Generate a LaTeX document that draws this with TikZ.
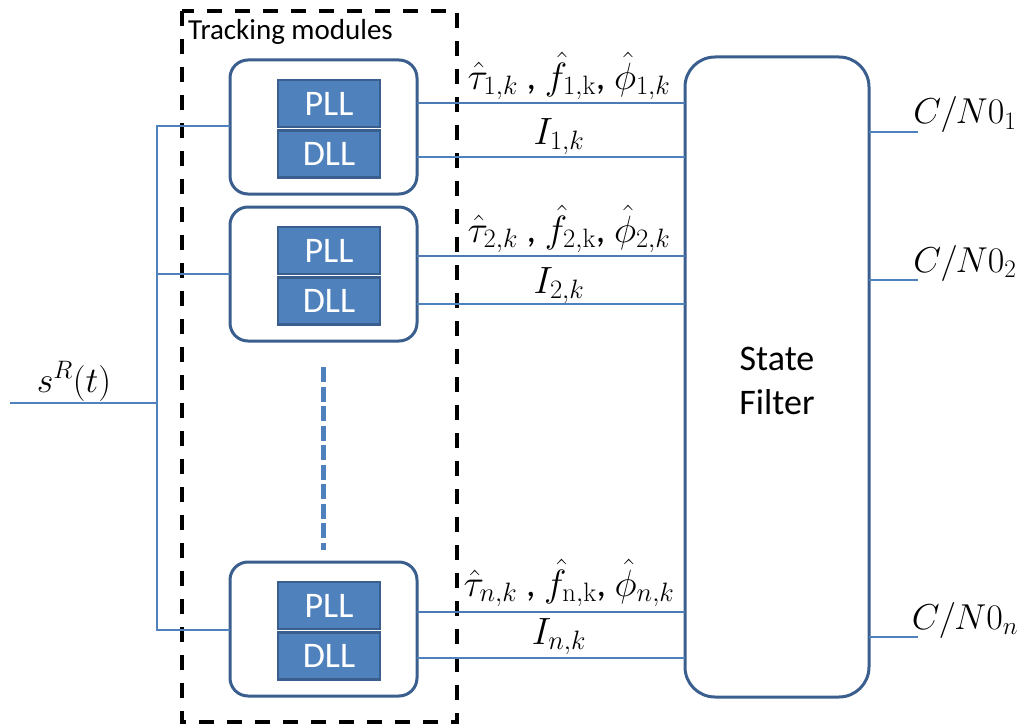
\RequirePackage{fix-cm}
\documentclass[tikz,border=0pt]{standalone}
\usepackage[no-math]{fontspec}
\setmainfont{Carlito}
\begin{document}
\begin{tikzpicture}[x=1pt,y=-1pt,
  dk/.style={draw=ddblue,line width=3pt},
  module/.style={dk,rounded corners=18pt,fill=white},
  loop/.style={draw=ddblue,line width=2.5pt,fill=mblue,text=white,font=\fontsize{36}{40}\selectfont,inner sep=0pt},
  thinln/.style={draw=mblue,line width=1.3pt},
  thickln/.style={draw=mblue!80!ddblue,line width=2.6pt},
  mlab/.style={font=\fontsize{36}{40}\selectfont,anchor=base,inner sep=0pt},
  elab/.style={font=\fontsize{38}{42}\selectfont,anchor=base,inner sep=0pt},
]
\definecolor{ddblue}{HTML}{3A5F8F}
\definecolor{mblue}{HTML}{4F81BD}
\useasboundingbox (0,0) rectangle (1026,725);
% dashed tracking box
\draw[black,line width=3.5pt,dash pattern=on 15pt off 13pt] (182,11) rectangle (457,722);
\node[anchor=base west,inner sep=0pt,font=\fontsize{29}{32}\selectfont] (tm) at (188,40) {Tracking modules};
% modules
\foreach \n/\t in {1/60,2/207,3/562}{
  \draw[module] (230,\t) rectangle (417,\t+134);
  \coordinate (min\n) at (230,\t+66);
  \node[loop,minimum width=102pt,minimum height=47pt] (pll\n) at (329,\t+43.5) {PLL};
  \node[loop,minimum width=102pt,minimum height=47pt] (dll\n) at (329,\t+94) {DLL};
}
% state filter
\draw[dk,rounded corners=30pt] (685,57) rectangle (869,697);
\node[font=\fontsize{36}{44}\selectfont,align=center] (sf) at (777,381) {State\\Filter};
% input
\coordinate (in) at (10,403);
\coordinate (bus) at (157,403);
\node[mlab] (sr) at (74,392) {$s^R(t)$};
\draw[thinln] (in) -- (bus);
\draw[thinln] (230,126) -- (157,126) -- (157,630) -- (230,630);
\draw[thinln] (157,274) -- (230,274);
% dots
\draw[draw=mblue,line width=5pt,dash pattern=on 15pt off 4.5pt] (323,367) -- (323,550);
% outputs
\draw[thickln] (417,103) -- (685,103);
\draw[thinln] (417,157) -- (685,157);
\draw[thickln] (417,256) -- (685,256);
\draw[thinln] (417,304) -- (685,304);
\draw[thickln] (417,612) -- (685,612);
\draw[thinln] (417,658) -- (685,658);
\node[elab] (l1) at (569,89) {$\hat\tau_{1,k}$ , $\hat f_{\mathrm{1,k}}$, $\hat\phi_{1,k}$};
\node[elab] (i1) at (559,144) {$I_{1,k}$};
\node[elab] (l2) at (569,242) {$\hat\tau_{2,k}$ , $\hat f_{\mathrm{2,k}}$, $\hat\phi_{2,k}$};
\node[elab] (i2) at (559,293) {$I_{2,k}$};
\node[elab] (l3) at (569,596) {$\hat\tau_{n,k}$ , $\hat f_{\mathrm{n,k}}$, $\hat\phi_{n,k}$};
\node[elab] (i3) at (559,644) {$I_{n,k}$};
% C/N0
\draw[thinln] (869,132) -- (918,132);
\draw[thinln] (869,280) -- (918,280);
\draw[thinln] (869,637) -- (918,637);
\node[mlab] (c1) at (965,124) {$C/N0_1$};
\node[mlab] (c2) at (965,272) {$C/N0_2$};
\node[mlab] (c3) at (965,629) {$C/N0_n$};
\end{tikzpicture}
\end{document}
